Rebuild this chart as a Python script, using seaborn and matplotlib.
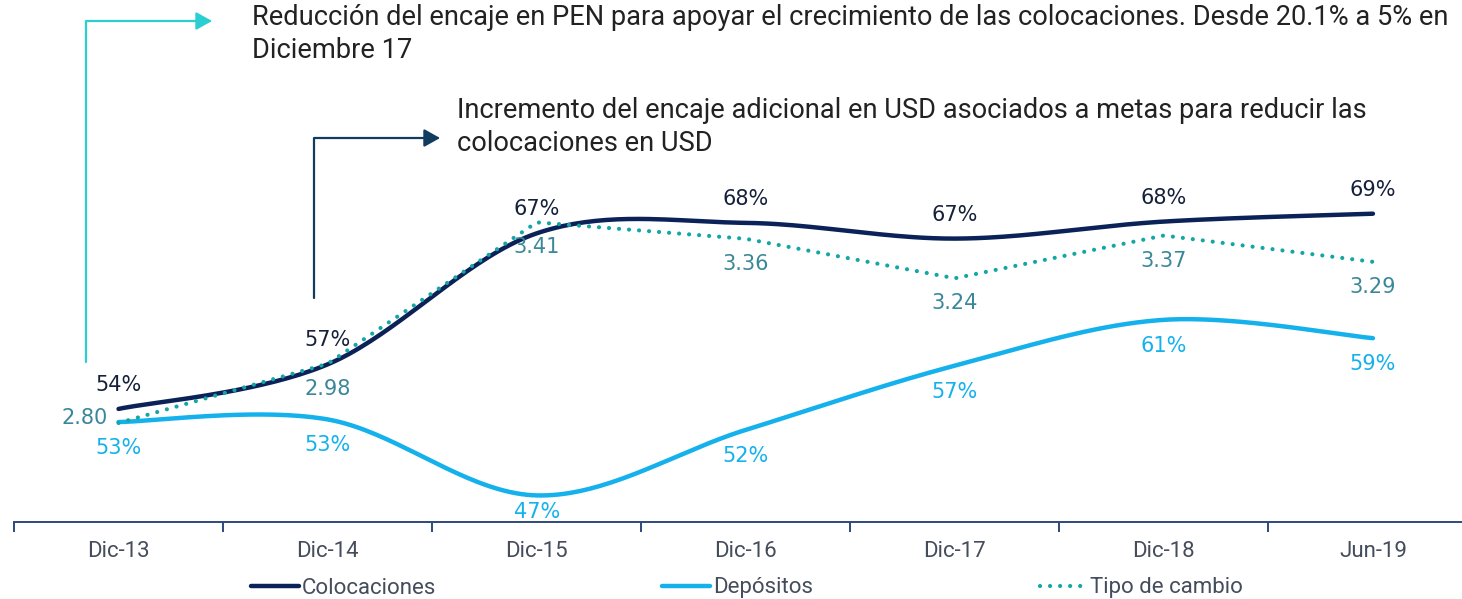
import numpy as np
import pandas as pd
import matplotlib
matplotlib.use("Agg")
import matplotlib.pyplot as plt
import seaborn as sns

# datos
periodos = ['Dic-13', 'Dic-14', 'Dic-15', 'Dic-16', 'Dic-17', 'Dic-18', 'Jun-19']
colocaciones = [54.0, 57.4, 67.4, 68.2, 67.0, 68.3, 68.9]
depositos = [53.0, 53.2, 47.4, 52.4, 57.3, 60.8, 59.4]
tipo_cambio = [2.80, 2.98, 3.41, 3.36, 3.24, 3.37, 3.29]

nota_pen = ('Reducción del encaje en PEN para apoyar el crecimiento de las colocaciones. '
            'Desde 20.1% a 5% en\nDiciembre 17')
nota_usd = ('Incremento del encaje adicional en USD asociados a metas para reducir las\n'
            'colocaciones en USD')

C_COL = '#0b2258'
C_DEP = '#14b1ec'
C_TC = '#14a5a5'


def suavizar(xv, yv, n=40):
    # curva suavizada tipo Excel (Catmull-Rom / Bezier) solo para el trazo
    P = np.column_stack([xv, yv]).astype(float)
    P = np.vstack([P[0], P, P[-1]])
    out = []
    t = np.linspace(0, 1, n)[:, None]
    for i in range(1, len(P) - 2):
        p0, p1, p2, p3 = P[i - 1], P[i], P[i + 1], P[i + 2]
        c1 = p1 + (p2 - p0) / 6
        c2 = p2 - (p3 - p1) / 6
        seg = (1 - t)**3 * p1 + 3 * (1 - t)**2 * t * c1 + 3 * (1 - t) * t**2 * c2 + t**3 * p2
        out.append(seg if i == 1 else seg[1:])
    return np.vstack(out)


sns.set_theme(style='white')
plt.rcParams['font.family'] = ['Roboto', 'DejaVu Sans']
LBL = ['DejaVu Sans']

fig = plt.figure(figsize=(14.62, 5.99), dpi=100)
ax = fig.add_axes([14 / 1462, 77 / 599, 1 - 14 / 1462, 522 / 599])
ax2 = ax.twinx()

x = np.arange(len(periodos))
df = pd.DataFrame({'periodo': periodos, 'x': x, 'col': colocaciones,
                   'dep': depositos, 'tc': tipo_cambio})

s_col = suavizar(df.x, df.col)
s_dep = suavizar(df.x, df.dep)
sns.lineplot(x=s_col[:, 0], y=s_col[:, 1], ax=ax, color=C_COL, linewidth=3.2,
             sort=False, label='Colocaciones', legend=False)
sns.lineplot(x=s_dep[:, 0], y=s_dep[:, 1], ax=ax, color=C_DEP, linewidth=3.2,
             sort=False, label='Depósitos', legend=False)
sns.lineplot(data=df, x='x', y='tc', ax=ax2, color=C_TC, linewidth=3,
             label='Tipo de cambio', legend=False)
ax2.lines[0].set_linestyle((0, (0.01, 2.4)))
ax2.lines[0].set_dash_capstyle('round')

ax.set_xlim(-0.5, 6.426)
ax.set_ylim(45.37, 85.21)
ax2.set_ylim(2.499, 4.086)

# etiquetas
for xi, v in zip(x, colocaciones):
    ax.annotate(f'{v:.0f}%', (xi, v), xytext=(0, 24), textcoords='offset pixels',
                ha='center', va='center', fontsize=15, color='#15203a', family=LBL)
for xi, v in zip(x, depositos):
    off = -17 if v == min(depositos) else -26
    ax.annotate(f'{v:.0f}%', (xi, v), xytext=(0, off), textcoords='offset pixels',
                ha='center', va='center', fontsize=15, color=C_DEP, family=LBL)
for xi, v in zip(x, tipo_cambio):
    if xi == 0:
        ax2.annotate(f'{v:.2f}', (xi, v), xytext=(-11, 5), textcoords='offset pixels',
                     ha='right', va='center', fontsize=15, color='#3a8799', family=LBL)
    else:
        ax2.annotate(f'{v:.2f}', (xi, v), xytext=(0, -25), textcoords='offset pixels',
                     ha='center', va='center', fontsize=15, color='#3a8799', family=LBL)

# ejes
for a in (ax, ax2):
    for s in ['top', 'right', 'left']:
        a.spines[s].set_visible(False)
    a.set_yticks([])
    a.set_ylabel('')
ax2.spines['bottom'].set_visible(False)
ax.spines['bottom'].set_color('#2d4a7c')
ax.spines['bottom'].set_linewidth(1.4)
ax.set_xticks(x)
ax.set_xticklabels(periodos, fontsize=16, color='#454d5c')
ax.set_xticks(np.arange(-0.5, 6.0, 1.0), minor=True)
ax.tick_params(axis='x', which='major', bottom=False, pad=8)
ax.tick_params(axis='x', which='minor', bottom=True, length=7, width=1.4,
               color='#2d4a7c', direction='out')
ax.set_xlabel('')

# notas con flechas
fig.text(252 / 1462, 1 - 4 / 599, nota_pen, ha='left', va='top', fontsize=19.6,
         color='#222222', linespacing=1.3)
fig.text(457 / 1462, 1 - 97 / 599, nota_usd, ha='left', va='top', fontsize=19.6,
         color='#222222', linespacing=1.3)
ax.annotate('', xy=(212, 599 - 21), xytext=(86, 599 - 362), xycoords='figure pixels',
            textcoords='figure pixels',
            arrowprops=dict(arrowstyle='-|>,head_length=0.8,head_width=0.45', color='#2ccfd1',
                            lw=1.6, shrinkA=0, shrinkB=0,
                            connectionstyle='angle,angleA=90,angleB=0,rad=0'))
ax.annotate('', xy=(440, 599 - 138), xytext=(314, 599 - 298), xycoords='figure pixels',
            textcoords='figure pixels',
            arrowprops=dict(arrowstyle='-|>,head_length=0.8,head_width=0.45', color='#123b60',
                            lw=1.6, shrinkA=0, shrinkB=0,
                            connectionstyle='angle,angleA=90,angleB=0,rad=0'))

# leyenda
handles = ax.get_lines()[:2] + [ax2.lines[0]]
fig.legend(handles, ['Colocaciones', 'Depósitos', 'Tipo de cambio'], loc='center',
           bbox_to_anchor=(747 / 1462, 1 - 588 / 599), ncol=3, frameon=False,
           fontsize=16, handlelength=2.16, handletextpad=0.12, columnspacing=10.2,
           labelcolor='#454d5c', borderpad=0)

fig.savefig('out.png', dpi=100)
